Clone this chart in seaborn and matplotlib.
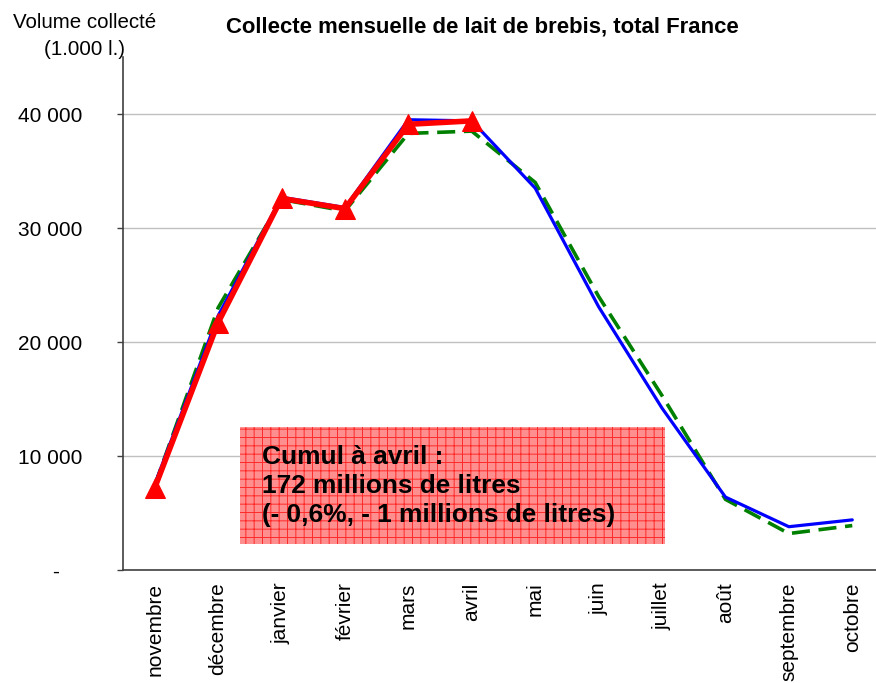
import numpy as np
import pandas as pd
import matplotlib
matplotlib.use('Agg')
import matplotlib.pyplot as plt
from matplotlib.patches import Rectangle
import seaborn as sns

months = ['novembre', 'décembre', 'janvier', 'février', 'mars', 'avril',
          'mai', 'juin', 'juillet', 'août', 'septembre', 'octobre']
# previous campaign (green dashed)
prev_campaign = [7400, 23000, 32500, 31500, 38300, 38500, 34000, 24000, 15300, 6200, 3200, 3900]
# reference campaign (blue)
ref_campaign = [7500, 22300, 32700, 31800, 39500, 39400, 33500, 23100, 14200, 6400, 3800, 4400]
# current campaign up to april (red)
cur_campaign = [7200, 21700, 32600, 31700, 39100, 39400]

ytick_values = [0, 10000, 20000, 30000, 40000]
ytick_labels = ['-    ', '10 000', '20 000', '30 000', '40 000']

sns.set_style('white')
plt.rcParams['font.family'] = ['Liberation Sans', 'DejaVu Sans']
plt.rcParams['text.color'] = 'black'
plt.rcParams['xtick.color'] = 'black'
plt.rcParams['ytick.color'] = 'black'
plt.rcParams['hatch.linewidth'] = 0.7

fig = plt.figure(figsize=(8.76, 6.83), dpi=100)
ax = fig.add_axes([0.1404, 0.1654, 0.8687, 0.7511])

x = np.arange(len(months))
sns.lineplot(x=x, y=prev_campaign, ax=ax, color='#008000', linewidth=2.6,
             sort=False, zorder=2).lines[-1].set_dashes((5, 2.4))
sns.lineplot(x=x, y=ref_campaign, ax=ax, color='#0000ff', linewidth=2.3,
             sort=False, zorder=3)
sns.lineplot(x=x[:len(cur_campaign)], y=cur_campaign, ax=ax, color='#ff0000',
             linewidth=4, marker='^', markersize=14, markeredgecolor='#ff0000',
             sort=False, zorder=4)

ax.set_xlim(-0.5, len(months) - 0.5)
ax.set_ylim(0, 45000)

ax.set_xticks(x)
ax.set_xticklabels(months, rotation=90, fontsize=15)
ax.set_xticks(np.arange(-0.5, len(months)), minor=True)
ax.tick_params(axis='x', which='major', length=0, pad=9)
ax.tick_params(axis='x', which='minor', length=4, width=1.2, color='#404040', direction='out')

ax.set_yticks(ytick_values)
ax.set_yticklabels(ytick_labels, fontsize=15)
ax.tick_params(axis='y', length=4, width=1, color='#404040', direction='out', pad=25, left=True)

ax.grid(axis='y', color='#c0c0c0', linewidth=1)
ax.grid(axis='x', visible=False)
sns.despine(ax=ax, top=True, right=True)
for side in ['left', 'bottom']:
    ax.spines[side].set_color('#404040')
    ax.spines[side].set_linewidth(1.2)

# annotation box with red grid hatch
box = Rectangle((0.1537, 0.0507), 0.5585, 0.228, transform=ax.transAxes,
                facecolor='#ff8e8e', edgecolor='#ff2a2a', hatch='++', linewidth=0, zorder=5)
ax.add_patch(box)
ax.text(0.1827, 0.1637, 'Cumul à avril :\n172 millions de litres\n(- 0,6%, - 1 millions de litres)',
        transform=ax.transAxes, fontsize=18.9, fontweight='bold', ha='left', va='center',
        linespacing=1.27, zorder=6)

fig.text(0.551, 1 - 27 / 683, 'Collecte mensuelle de lait de brebis, total France',
         ha='center', va='center', fontsize=15.9, fontweight='bold')
fig.text(85 / 876, 1 - 36 / 683, 'Volume collecté\n(1.000 l.)', ha='center', va='center',
         fontsize=14.8, linespacing=1.5)

fig.savefig('out.png', dpi=100)
